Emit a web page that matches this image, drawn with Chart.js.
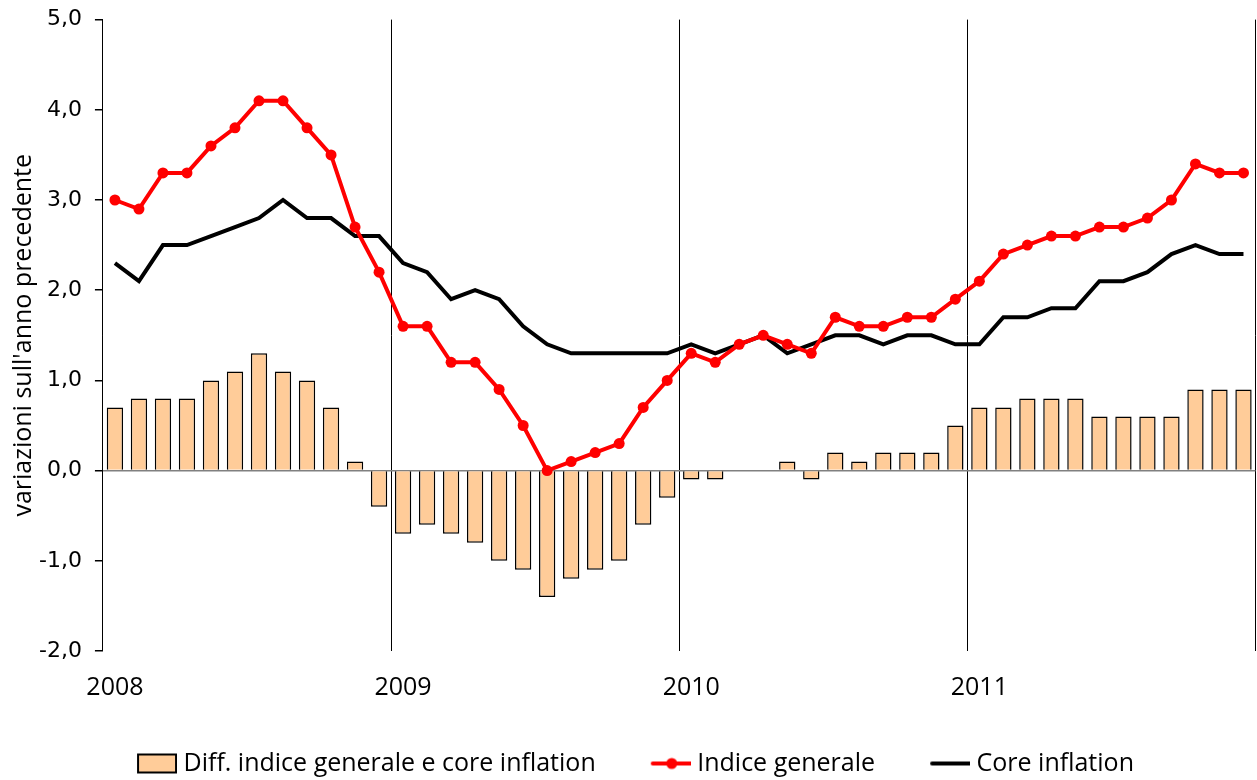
<!DOCTYPE html>
<html>
<head>
<meta charset="utf-8">
<script src="https://cdn.jsdelivr.net/npm/chart.js@4.4.1/dist/chart.umd.min.js"></script>
<style>
  html, body { margin: 0; padding: 0; background: #fff; overflow: hidden; }
  #wrap { width: 1261px; height: 780px; }
</style>
</head>
<body>
<div id="wrap"><canvas id="chart"></canvas></div>
<script>
const years = ["2008", "2009", "2010", "2011"];
const months = ["gen", "feb", "mar", "apr", "mag", "giu", "lug", "ago", "set", "ott", "nov", "dic"];

// differenza indice generale - core inflation (barre)
const diff = [
  0.7, 0.8, 0.8, 0.8, 1.0, 1.1, 1.3, 1.1, 1.0, 0.7, 0.1, -0.4,
  -0.7, -0.6, -0.7, -0.8, -1.0, -1.1, -1.4, -1.2, -1.1, -1.0, -0.6, -0.3,
  -0.1, -0.1, 0.0, 0.0, 0.1, -0.1, 0.2, 0.1, 0.2, 0.2, 0.2, 0.5,
  0.7, 0.7, 0.8, 0.8, 0.8, 0.6, 0.6, 0.6, 0.6, 0.9, 0.9, 0.9,
];

const indiceGenerale = [
  3.0, 2.9, 3.3, 3.3, 3.6, 3.8, 4.1, 4.1, 3.8, 3.5, 2.7, 2.2,
  1.6, 1.6, 1.2, 1.2, 0.9, 0.5, 0.0, 0.1, 0.2, 0.3, 0.7, 1.0,
  1.3, 1.2, 1.4, 1.5, 1.4, 1.3, 1.7, 1.6, 1.6, 1.7, 1.7, 1.9,
  2.1, 2.4, 2.5, 2.6, 2.6, 2.7, 2.7, 2.8, 3.0, 3.4, 3.3, 3.3,
];

const coreInflation = [
  2.3, 2.1, 2.5, 2.5, 2.6, 2.7, 2.8, 3.0, 2.8, 2.8, 2.6, 2.6,
  2.3, 2.2, 1.9, 2.0, 1.9, 1.6, 1.4, 1.3, 1.3, 1.3, 1.3, 1.3,
  1.4, 1.3, 1.4, 1.5, 1.3, 1.4, 1.5, 1.5, 1.4, 1.5, 1.5, 1.4,
  1.4, 1.7, 1.7, 1.8, 1.8, 2.1, 2.1, 2.2, 2.4, 2.5, 2.4, 2.4,
];

const yMin = -2;
const yMax = 5;
const yStep = 1;

const categories = [];
for (const y of years) for (const m of months) categories.push(m + " " + y);

const BAR_FILL = "#FFCC99";
const RED = "#FF0000";

// icone della legenda (icona spostata a destra nel riquadro per lasciare spazio tra le voci)
function legendIcon(kind) {
  const c = document.createElement("canvas");
  c.width = 53; c.height = 22;
  const g = c.getContext("2d");
  const x0 = 13;
  if (kind === "bar") {
    g.fillStyle = BAR_FILL;
    g.fillRect(x0 + 1, 2, 38, 18);
    g.strokeStyle = "#000";
    g.lineWidth = 2;
    g.strokeRect(x0 + 1, 2, 38, 18);
  } else {
    g.strokeStyle = kind === "red" ? RED : "#000";
    g.lineWidth = 4;
    g.lineCap = "round";
    g.beginPath(); g.moveTo(x0 + 2, 11); g.lineTo(x0 + 40, 11); g.stroke();
    if (kind === "red") {
      g.fillStyle = RED;
      g.beginPath(); g.arc(x0 + 21, 11, 5.5, 0, Math.PI * 2); g.fill();
    }
  }
  return c;
}
const icons = [legendIcon("bar"), legendIcon("red"), legendIcon("black")];

const fmt = (v) => v.toFixed(1).replace(".", ",");

new Chart(document.getElementById("chart"), {
  data: {
    labels: categories,
    datasets: [
      {
        type: "bar",
        label: "Diff. indice generale e core inflation",
        data: diff,
        backgroundColor: BAR_FILL,
        borderColor: "#000",
        borderWidth: 1.5,
        barPercentage: 0.68,
        categoryPercentage: 1,
        order: 3,
      },
      {
        type: "line",
        label: "Indice generale",
        data: indiceGenerale,
        borderColor: RED,
        backgroundColor: RED,
        borderWidth: 4,
        pointRadius: 5.5,
        pointBackgroundColor: RED,
        pointBorderWidth: 0,
        tension: 0,
        order: 1,
      },
      {
        type: "line",
        label: "Core inflation",
        data: coreInflation,
        borderColor: "#000",
        borderWidth: 4,
        pointRadius: 0,
        tension: 0,
        order: 2,
      },
    ],
  },
  options: {
    responsive: true,
    maintainAspectRatio: false,
    animation: false,
    layout: { padding: { top: 1, right: 0, left: 3, bottom: -6 } },
    scales: {
      x: {
        type: "category",
        offset: true,
        grid: {
          offset: true,
          drawTicks: true,
          tickLength: 22,
          tickColor: "transparent",
          lineWidth: 1,
          color: (ctx) => (ctx.index === undefined || ctx.index % 12 === 0 ? "#000" : "transparent"),
        },
        border: { display: false },
        ticks: {
          autoSkip: false,
          maxRotation: 0,
          padding: 0,
          color: "#000",
          font: { family: "Open Sans", size: 25 },
          callback: (v, i) => (i % 12 === 0 ? years[i / 12] : ""),
        },
      },
      y: {
        min: yMin,
        max: yMax,
        ticks: {
          stepSize: yStep,
          padding: 13,
          color: "#000",
          font: { family: "DejaVu Sans", size: 22, lineHeight: 0.6 },
          callback: (v) => fmt(v),
        },
        grid: {
          tickLength: 8,
          color: (ctx) => (ctx.tick && ctx.tick.value === 0 ? "#808080" : "transparent"),
          tickColor: "#000",
          lineWidth: 1.5,
        },
        border: { color: "#000", width: 1 },
        title: {
          display: true,
          text: "variazioni sull'anno precedente",
          color: "#000",
          font: { family: "Open Sans", size: 25, lineHeight: 1 },
          padding: { top: 8, bottom: -10 },
        },
      },
    },
    plugins: {
      tooltip: { enabled: false },
      legend: {
        position: "bottom",
        labels: {
          color: "#000",
          font: { family: "Open Sans", size: 25 },
          usePointStyle: true,
          pointStyleWidth: 41,
          padding: 48,
          generateLabels: (chart) =>
            chart.data.datasets.map((ds, i) => ({
              text: ds.label,
              datasetIndex: i,
              pointStyle: icons[i],
              fillStyle: "transparent",
              strokeStyle: "transparent",
              lineWidth: 0,
              hidden: !chart.isDatasetVisible(i),
              fontColor: "#000",
            })),
        },
      },
    },
  },
});
</script>
</body>
</html>
